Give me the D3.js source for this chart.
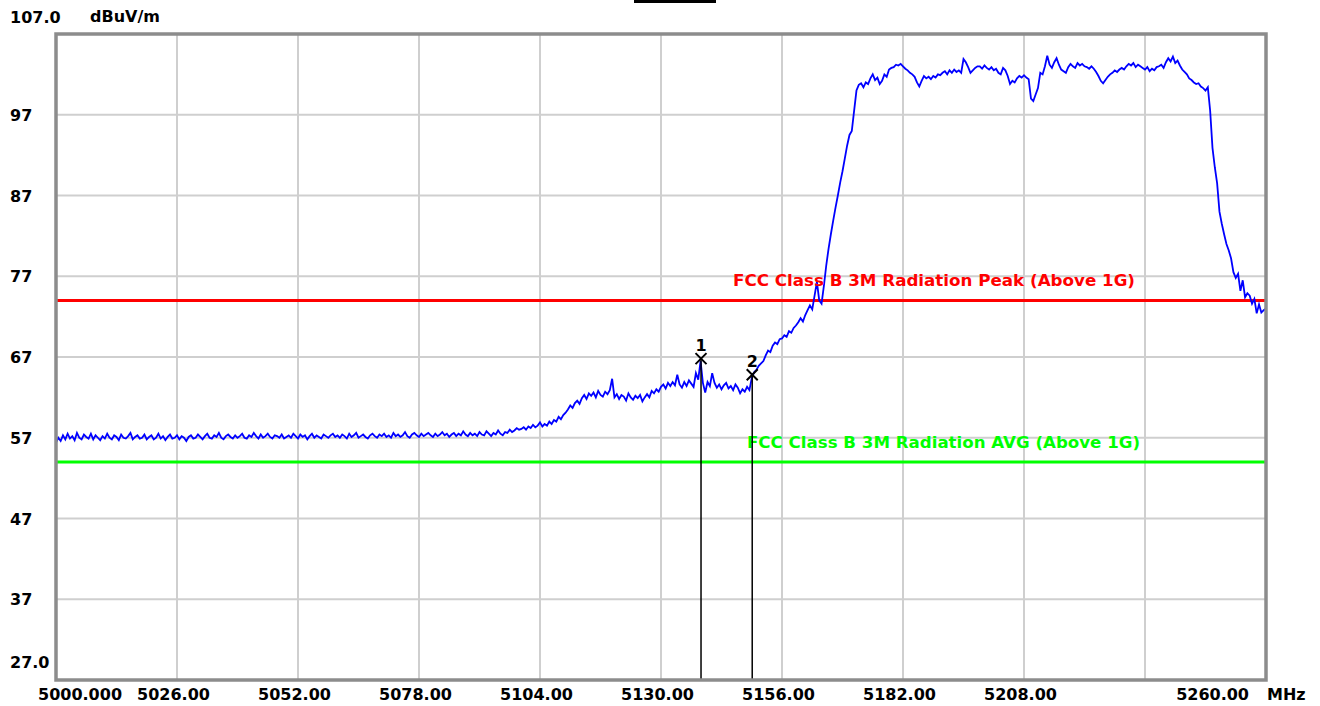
<!DOCTYPE html>
<html>
<head>
<meta charset="utf-8">
<script src="https://cdn.jsdelivr.net/npm/d3@7"></script>
<style>
  html, body { margin: 0; padding: 0; background: #ffffff; }
  svg { display: block; }
  text { font-family: "DejaVu Sans", sans-serif; font-weight: bold; }
</style>
</head>
<body>
<svg id="chart" width="1320" height="706"></svg>
<script>
// ---------- data ----------
const freqDomain = [5000, 5260];
const levelDomain = [27, 107];
const sweepStart = 5000;
const sweepStep = 0.5;
const xTickValues = [5000, 5026, 5052, 5078, 5104, 5130, 5156, 5182, 5208, 5234, 5260];
const xTickLabels = ["5000.000", "5026.00", "5052.00", "5078.00", "5104.00", "5130.00", "5156.00", "5182.00", "5208.00", "", "5260.00"];
const yTickValues = [27, 37, 47, 57, 67, 77, 87, 97, 107];
const yTickLabels = ["27.0", "37", "47", "57", "67", "77", "87", "97", "107.0"];
const unitY = "dBuV/m";
const unitX = "MHz";
const limitNames = ["FCC Class B 3M Radiation Peak (Above 1G)", "FCC Class B 3M Radiation AVG (Above 1G)"];
const limitLevels = [74, 54];
const limitColors = ["#ff0000", "#00ff00"];
const markerIds = ["1", "2"];
const markerFreqs = [5138.6, 5149.6];
const markerLevels = [66.8, 64.8];
// trace levels (dBuV/m), one every 0.5 MHz from 5000 to 5260 MHz
const traceLevels = [
  56.4,57.0,56.6,57.3,56.8,57.5,56.9,57.2,56.7,57.6,57.0,56.8,57.4,57.1,56.9,57.5,56.8,57.3,57.0,56.7,
  57.2,56.9,57.5,57.0,56.8,57.3,57.1,56.7,57.4,57.0,56.9,57.2,57.6,56.8,57.1,57.3,56.9,57.0,57.4,56.8,
  57.1,57.3,56.8,57.0,57.5,56.9,57.2,56.7,57.1,57.4,56.9,57.0,57.3,56.8,57.2,57.0,56.6,57.1,57.3,56.9,
  57.0,57.4,57.1,56.8,57.2,57.5,57.0,56.9,57.3,57.1,57.6,57.0,56.8,57.2,57.4,57.1,56.9,57.3,57.0,57.2,
  57.5,57.0,56.9,57.3,57.1,57.6,57.2,56.9,57.4,57.0,57.2,57.5,57.1,56.9,57.3,57.2,57.0,57.4,56.9,57.1,
  57.3,57.0,57.5,57.2,56.9,57.4,57.1,57.3,56.8,57.2,57.5,57.0,57.3,57.1,56.9,57.4,57.2,57.0,57.3,57.5,
  57.1,57.3,57.0,57.4,57.2,56.9,57.5,57.1,57.3,57.6,57.0,57.2,57.4,57.1,56.9,57.3,57.5,57.2,57.0,57.4,
  57.2,57.5,57.1,57.3,57.0,57.6,57.2,57.4,57.1,57.3,57.7,57.2,57.0,57.4,57.6,57.3,57.1,57.5,57.2,57.4,
  57.6,57.3,57.1,57.5,57.2,57.4,57.7,57.3,57.5,57.1,57.4,57.6,57.2,57.5,57.3,57.8,57.4,57.2,57.6,57.3,
  57.5,57.2,57.7,57.4,57.3,57.8,57.5,57.2,57.6,57.4,57.9,57.5,57.3,57.7,57.6,58.0,57.7,57.9,58.2,58.0,
  58.1,58.3,58.0,58.4,58.2,58.6,58.3,58.5,58.9,58.4,58.7,58.5,59.0,58.7,59.2,59.0,59.6,59.3,59.8,60.1,
  60.5,61.0,60.7,61.3,61.6,61.2,61.9,62.3,61.8,62.5,62.2,62.6,62.0,62.8,62.3,62.1,62.7,62.4,62.9,64.3,
  62.0,62.4,61.8,62.3,62.1,61.6,62.5,62.0,61.7,62.2,61.9,62.3,61.5,62.0,62.4,62.0,62.8,62.5,63.0,62.7,
  63.3,63.6,63.1,63.8,63.4,63.9,63.5,64.8,63.6,63.2,63.9,63.4,64.1,63.7,63.3,65.0,64.2,66.5,63.8,62.6,
  63.9,63.4,65.0,63.8,63.2,63.6,63.0,63.5,63.8,63.1,63.4,62.9,63.6,63.2,62.5,63.0,62.7,63.3,62.9,64.4,
  65.1,65.4,65.9,66.2,66.5,67.2,67.8,67.6,68.4,68.8,68.6,69.2,69.3,69.7,69.5,70.2,70.0,70.6,70.9,71.3,
  71.8,71.4,72.2,72.8,73.4,72.9,74.6,76.3,74.0,73.6,75.8,78.3,80.4,82.2,83.9,85.5,87.0,88.6,90.0,91.6,
  93.2,94.5,95.0,97.5,100.0,100.7,100.9,100.4,101.0,100.8,101.5,102.0,101.3,101.6,100.8,101.2,102.0,101.7,102.6,102.8,
  102.9,103.2,103.1,103.3,103.0,102.7,102.5,102.2,102.0,101.7,101.0,100.5,101.2,101.8,101.5,101.7,101.4,101.8,101.6,102.0,
  101.9,102.2,102.4,102.0,102.5,102.2,102.6,102.3,102.5,102.2,103.9,103.5,102.9,102.2,102.5,102.8,103.0,103.0,102.7,103.1,
  102.8,102.6,102.9,102.5,102.7,102.2,102.0,102.8,102.5,101.8,100.8,101.2,101.0,101.5,101.8,101.6,101.9,101.6,101.4,99.0,
  98.7,99.5,100.3,102.2,102.0,103.0,104.3,103.2,102.8,103.5,104.0,103.2,102.6,102.4,102.2,102.9,103.3,103.0,102.8,103.4,
  103.1,103.3,103.0,102.9,102.7,103.0,102.7,102.3,101.8,101.2,100.9,101.3,101.7,102.0,102.2,102.5,102.3,102.6,102.8,102.6,
  103.0,103.3,103.1,103.4,102.9,103.2,103.0,102.8,102.6,102.9,102.4,102.7,102.5,102.9,103.0,103.2,102.8,103.5,104.0,103.6,
  104.2,103.4,103.7,103.1,102.6,102.3,102.0,101.5,101.3,101.0,100.8,100.9,100.5,100.3,100.0,100.4,97.5,92.9,90.5,88.5,
  85.0,83.5,82.2,81.0,80.2,79.2,77.5,76.8,77.3,75.2,76.5,74.4,74.9,74.6,73.6,74.2,72.4,73.5,72.5,72.8,
  73.0
];

// ---------- layout ----------
const plotLeft = 56, plotRight = 1266, plotTop = 34, plotBottom = 680;
const svg = d3.select("#chart");

const x = d3.scaleLinear().domain(freqDomain).range([plotLeft, plotRight]);
const y = d3.scaleLinear().domain(levelDomain).range([plotBottom, plotTop]);

// top black bar
svg.append("rect").attr("x", 634).attr("y", 0).attr("width", 82).attr("height", 3).attr("fill", "#000");

// grid
const gridX = xTickValues.filter(v => v > freqDomain[0] && v < freqDomain[1]);
const gridY = yTickValues.filter(v => v > levelDomain[0] && v < levelDomain[1]);
svg.append("g").selectAll("line").data(gridX).join("line")
  .attr("x1", d => x(d)).attr("x2", d => x(d))
  .attr("y1", plotTop).attr("y2", plotBottom)
  .attr("stroke", "#cfcfcf").attr("stroke-width", 2);
svg.append("g").selectAll("line").data(gridY).join("line")
  .attr("x1", plotLeft).attr("x2", plotRight)
  .attr("y1", d => y(d)).attr("y2", d => y(d))
  .attr("stroke", "#cfcfcf").attr("stroke-width", 2);

// clip
svg.append("clipPath").attr("id", "plotClip").append("rect")
  .attr("x", plotLeft).attr("y", plotTop).attr("width", plotRight - plotLeft).attr("height", plotBottom - plotTop);

// limit lines
svg.append("g").selectAll("line").data(limitLevels).join("line")
  .attr("x1", plotLeft).attr("x2", plotRight)
  .attr("y1", d => y(d)).attr("y2", d => y(d))
  .attr("stroke", (d, i) => limitColors[i]).attr("stroke-width", 3);

// trace
const traceData = traceLevels.map((v, i) => [sweepStart + i * sweepStep, v]);
const line = d3.line().x(d => x(d[0])).y(d => y(d[1]));
svg.append("path").datum(traceData)
  .attr("clip-path", "url(#plotClip)")
  .attr("d", line)
  .attr("fill", "none").attr("stroke", "#0000ff").attr("stroke-width", 1.8)
  .attr("stroke-linejoin", "miter");

// limit labels
const limitLabelX = [733, 747];
const limitLabelW = [402, 393];
limitNames.forEach((name, i) => {
  svg.append("text")
    .attr("x", limitLabelX[i]).attr("y", y(limitLevels[i]) - 14)
    .attr("font-size", 16)
    .attr("fill", limitColors[i])
    .attr("textLength", limitLabelW[i]).attr("lengthAdjust", "spacingAndGlyphs")
    .text(name);
});

// markers
markerIds.forEach((id, i) => {
  const mx = x(markerFreqs[i]), my = y(markerLevels[i]);
  svg.append("line").attr("x1", mx).attr("x2", mx).attr("y1", my).attr("y2", plotBottom)
    .attr("stroke", "#000").attr("stroke-width", 1.5);
  const s = 5.5;
  svg.append("path")
    .attr("d", `M${mx - s},${my - s}L${mx + s},${my + s}M${mx - s},${my + s}L${mx + s},${my - s}`)
    .attr("stroke", "#000").attr("stroke-width", 2).attr("fill", "none");
  svg.append("text").attr("x", mx).attr("y", my - 8)
    .attr("text-anchor", "middle").attr("font-size", 16).attr("fill", "#000")
    .text(id);
});

// frame
svg.append("rect")
  .attr("x", plotLeft).attr("y", plotTop)
  .attr("width", plotRight - plotLeft).attr("height", plotBottom - plotTop)
  .attr("fill", "none").attr("stroke", "#8c8c8c").attr("stroke-width", 3.5);

// y labels
yTickValues.forEach((v, i) => {
  let yy = y(v) + 6;
  if (i === 0) yy = y(v) - 12;
  if (i === yTickValues.length - 1) yy = y(v) - 11;
  svg.append("text").attr("x", 10).attr("y", yy)
    .attr("font-size", 16).attr("fill", "#000").text(yTickLabels[i]);
});
svg.append("text").attr("x", 90).attr("y", 22).attr("font-size", 16).attr("fill", "#000").text(unitY);

// x labels
xTickValues.forEach((v, i) => {
  const lab = xTickLabels[i];
  if (!lab) return;
  const t = svg.append("text").attr("y", 700).attr("font-size", 16).attr("fill", "#000").text(lab);
  if (i === 0) t.attr("x", 38);
  else if (i === xTickValues.length - 1) t.attr("x", 1249).attr("text-anchor", "end");
  else t.attr("x", x(v) - 3.5).attr("text-anchor", "middle");
});
svg.append("text").attr("x", 1267).attr("y", 700).attr("font-size", 16).attr("fill", "#000").text(unitX);
</script>
</body>
</html>
